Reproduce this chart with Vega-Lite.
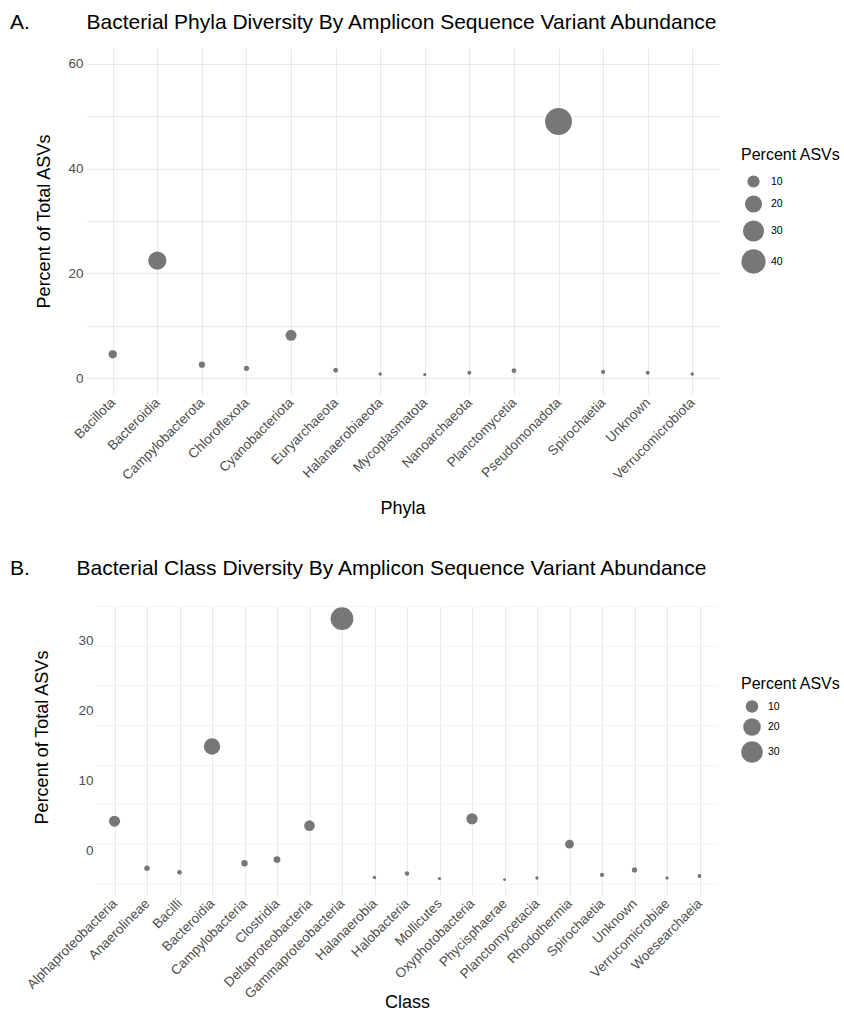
{
  "$schema": "https://vega.github.io/schema/vega-lite/v6.json",
  "background": "white",
  "padding": {"left": 10, "top": 12, "right": 0, "bottom": 2},
  "spacing": 212,
  "bounds": "flush",
  "config": {
    "font": "Liberation Sans",
    "view": {"stroke": null},
    "axis": {
      "domain": false,
      "ticks": false,
      "grid": true,
      "gridColor": "#d6d6d6",
      "gridOpacity": 0.5,
      "gridWidth": 1,
      "zindex": 1,
      "labelColor": "#4d4d4d",
      "labelFontSize": 13.5,
      "labelFont": "Liberation Sans",
      "titleFont": "Liberation Sans",
      "titleFontSize": 18,
      "titleFontWeight": "normal",
      "titleColor": "#000000",
      "labelOverlap": false
    },
    "legend": {
      "titleFontSize": 16,
      "titleFontWeight": "normal",
      "titleColor": "#000000",
      "labelFontSize": 10.5,
      "labelColor": "#000000",
      "symbolFillColor": "#777777",
      "symbolStrokeWidth": 0,
      "symbolOpacity": 1,
      "rowPadding": 5,
      "labelOffset": 5,
      "titlePadding": 8
    },
    "title": {"font": "Liberation Sans", "fontWeight": "normal", "color": "#000000", "fontSize": 21}
  },
  "datasets": {
    "phyla": [
      {"Phyla": "Bacillota", "Percent": 4.58},
      {"Phyla": "Bacteroidia", "Percent": 22.45},
      {"Phyla": "Campylobacterota", "Percent": 2.6},
      {"Phyla": "Chloroflexota", "Percent": 1.9},
      {"Phyla": "Cyanobacteriota", "Percent": 8.2},
      {"Phyla": "Euryarchaeota", "Percent": 1.53},
      {"Phyla": "Halanaerobiaeota", "Percent": 0.82},
      {"Phyla": "Mycoplasmatota", "Percent": 0.7},
      {"Phyla": "Nanoarchaeota", "Percent": 1.07},
      {"Phyla": "Planctomycetia", "Percent": 1.45},
      {"Phyla": "Pseudomonadota", "Percent": 48.98},
      {"Phyla": "Spirochaetia", "Percent": 1.2},
      {"Phyla": "Unknown", "Percent": 1.07},
      {"Phyla": "Verrucomicrobiota", "Percent": 0.82}
    ],
    "classes": [
      {"Class": "Alphaproteobacteria", "Percent": 7.9},
      {"Class": "Anaerolineae", "Percent": 1.96},
      {"Class": "Bacilli", "Percent": 1.46},
      {"Class": "Bacteroidia", "Percent": 17.3},
      {"Class": "Campylobacteria", "Percent": 2.6},
      {"Class": "Clostridia", "Percent": 3.06},
      {"Class": "Deltaproteobacteria", "Percent": 7.33},
      {"Class": "Gammaproteobacteria", "Percent": 33.4},
      {"Class": "Halanaerobia", "Percent": 0.79},
      {"Class": "Halobacteria", "Percent": 1.3},
      {"Class": "Mollicutes", "Percent": 0.67},
      {"Class": "Oxyphotobacteria", "Percent": 8.2},
      {"Class": "Phycisphaerae", "Percent": 0.54},
      {"Class": "Planctomycetacia", "Percent": 0.75},
      {"Class": "Rhodothermia", "Percent": 5.0},
      {"Class": "Spirochaetia", "Percent": 1.13},
      {"Class": "Unknown", "Percent": 1.76},
      {"Class": "Verrucomicrobiae", "Percent": 0.75},
      {"Class": "Woesearchaeia", "Percent": 1.0}
    ],
    "empty": []
  },
  "vconcat": [
    {
      "width": 633,
      "height": 346,
      "title": {
        "text": "A.\u00a0\u00a0\u00a0\u00a0\u00a0\u00a0\u00a0\u00a0\u00a0\u2009Bacterial Phyla Diversity By Amplicon Sequence Variant Abundance",
        "anchor": "start",
        "frame": "group",
        "dx": -76,
        "offset": 15
      },
      "data": {"name": "phyla"},
      "mark": {"type": "circle", "color": "#777777", "opacity": 1},
      "encoding": {
        "x": {
          "field": "Phyla",
          "type": "nominal",
          "sort": null,
          "scale": {"type": "point", "padding": 0.6},
          "axis": {"title": "Phyla", "labelAngle": -45, "labelAlign": "right", "labelBaseline": "middle", "labelPadding": 6, "titlePadding": 17}
        },
        "y": {
          "field": "Percent",
          "type": "quantitative",
          "scale": {"domain": [-3, 63], "nice": false, "zero": false},
          "axis": {
            "title": "Percent of Total ASVs",
            "values": [0, 10, 20, 30, 40, 50, 60],
            "labelExpr": "datum.value % 20 === 0 ? datum.label : ''",
            "labelPadding": 3,
            "titlePadding": 14
          }
        },
        "size": {
          "field": "Percent",
          "type": "quantitative",
          "scale": {"domain": [0, 50], "range": [0, 740]},
          "legend": {"title": "Percent ASVs", "values": [10, 20, 30, 40], "orient": "none", "legendX": 655, "legendY": 99, "rowPadding": 7, "titlePadding": 12}
        }
      }
    },
    {
      "spacing": 8,
      "bounds": "flush",
      "hconcat": [
        {
          "width": 1,
          "height": 1,
          "data": {"name": "empty"},
          "mark": {"type": "point", "opacity": 0},
          "encoding": {}
        },
        {
          "width": 624,
          "height": 289,
          "title": {
            "text": "B.\u00a0\u00a0\u00a0\u00a0\u00a0\u00a0\u00a0\u00a0Bacterial Class Diversity By Amplicon Sequence Variant Abundance",
            "anchor": "start",
            "frame": "group",
            "dx": -85,
            "offset": 20
          },
          "data": {"name": "classes"},
          "mark": {"type": "circle", "color": "#777777", "opacity": 1},
          "encoding": {
            "x": {
              "field": "Class",
              "type": "nominal",
              "sort": null,
              "scale": {"type": "point", "padding": 0.6},
              "axis": {"title": "Class", "labelAngle": -45, "labelAlign": "right", "labelBaseline": "middle", "labelPadding": 6, "titlePadding": -7}
            },
            "y": {
              "field": "Percent",
              "type": "quantitative",
              "scale": {"domain": [-1.4, 35], "nice": false, "zero": false},
              "axis": {
                "title": "Percent of Total ASVs",
                "titleY": 131,
                "values": [0, 4.2, 5, 10, 13, 15, 20, 21.8, 25, 30, 30.6, 35],
                "labelExpr": "datum.value === 4.2 ? '0' : datum.value === 13 ? '10' : datum.value === 21.8 ? '20' : datum.value === 30.6 ? '30' : ''",
                "gridOpacity": {"condition": {"test": "datum.value % 5 === 0", "value": 0.5}, "value": 0},
                "labelPadding": 2,
                "titlePadding": 26
              }
            },
            "size": {
              "field": "Percent",
              "type": "quantitative",
              "scale": {"domain": [0, 35], "range": [0, 542]},
              "legend": {"title": "Percent ASVs", "values": [10, 20, 30], "orient": "none", "legendX": 655, "legendY": 70}
            }
          }
        }
      ]
    }
  ],
  "resolve": {"scale": {"size": "independent"}, "legend": {"size": "independent"}}
}
